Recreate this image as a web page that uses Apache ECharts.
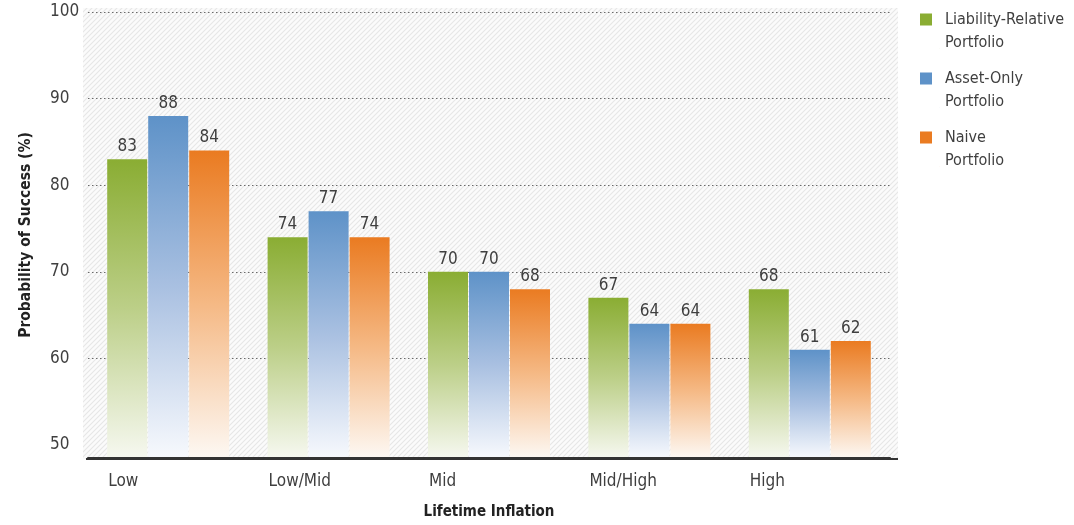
<!DOCTYPE html>
<html>
<head>
<meta charset="utf-8">
<script src="https://cdn.jsdelivr.net/npm/echarts@6/dist/echarts.min.js"></script>
<style>
  html, body { margin: 0; padding: 0; background: #ffffff; }
  #chart { width: 1074px; height: 525px; }
</style>
</head>
<body>
<div id="chart"></div>
<script>
// Lifetime inflation scenarios
const categories = ['Low', 'Low/Mid', 'Mid', 'Mid/High', 'High'];
const seriesNames = ['Liability-Relative\nPortfolio', 'Asset-Only\nPortfolio', 'Naive\nPortfolio'];
// Probability of success (%) per portfolio
const liabilityRelative = [83, 74, 70, 67, 68];
const assetOnly = [88, 77, 70, 64, 61];
const naive = [84, 74, 68, 64, 62];
// Y-axis labels and dotted grid lines
const yLabels = [50, 60, 70, 80, 90, 100];
const yGridLines = [60, 70, 80, 90, 100];

const FONT = "'Liberation Sans Narrow', 'DejaVu Sans Condensed', 'Roboto', sans-serif";
const TEXT = '#3f3f3f';

// Fine diagonal hatch for the plot background
function hatchPattern() {
  const s = 5;
  const c = document.createElement('canvas');
  c.width = s; c.height = s;
  const ctx = c.getContext('2d');
  ctx.fillStyle = '#fbfbfb';
  ctx.fillRect(0, 0, s, s);
  ctx.strokeStyle = '#e6e6e6';
  ctx.lineWidth = 1.1;
  ctx.beginPath();
  ctx.moveTo(-1, s + 1); ctx.lineTo(s + 1, -1);
  ctx.moveTo(-1, 1); ctx.lineTo(1, -1);
  ctx.moveTo(s - 1, s + 1); ctx.lineTo(s + 1, s - 1);
  ctx.stroke();
  return c;
}

function fade(top, mid, bottom) {
  return new echarts.graphic.LinearGradient(0, 0, 0, 1, [
    { offset: 0, color: top },
    { offset: 0.5, color: mid },
    { offset: 1, color: bottom }
  ]);
}

const palette = [
  { solid: '#8aad33', fill: fade('#8aad33', '#bccf88', '#f6f8f0') },
  { solid: '#5e92c8', fill: fade('#5e92c8', '#a9c0e1', '#f7f9fd') },
  { solid: '#ea7b21', fill: fade('#ea7b21', '#f5b985', '#fdf8f3') }
];

// Legend swatch: 12px square at the top-left of a taller box, so it sits beside the first text line
const SWATCH = 'path://M0,0H12V12H0Z M19.85,34.85H20V35H19.85Z';

const values = [liabilityRelative, assetOnly, naive];

const chart = echarts.init(document.getElementById('chart'), null, { renderer: 'canvas' });

chart.setOption({
  animation: false,
  backgroundColor: '#ffffff',
  textStyle: { fontFamily: FONT },
  graphic: [{
    type: 'rect',
    z: -10,
    silent: true,
    shape: { x: 83, y: 8, width: 815, height: 451 },
    style: { fill: { image: hatchPattern(), repeat: 'repeat' } }
  }, {
    // baseline running slightly past the category band on both ends
    type: 'line',
    z: -9,
    silent: true,
    shape: { x1: 86, y1: 459, x2: 898, y2: 459 },
    style: { stroke: '#333333', lineWidth: 2 }
  }],
  grid: { left: 88, right: 184, top: 12, bottom: 66 },
  legend: {
    orient: 'vertical',
    left: 920,
    top: 8,
    padding: 0,
    itemWidth: 20,
    itemHeight: 35,
    itemGap: 13,
    icon: SWATCH,
    selectedMode: false,
    textStyle: {
      fontFamily: FONT,
      fontSize: 16,
      color: TEXT,
      lineHeight: 23
    },
    data: seriesNames.map((n, i) => ({ name: n, itemStyle: { color: palette[i].solid } }))
  },
  xAxis: {
    type: 'category',
    z: 10,
    data: categories,
    name: 'Lifetime Inflation',
    nameLocation: 'middle',
    nameGap: 47,
    nameTextStyle: { fontFamily: FONT, fontWeight: 'bold', fontSize: 15, color: '#222222' },
    axisLine: { show: true, lineStyle: { color: '#333333', width: 2 } },
    axisTick: { show: false },
    axisLabel: {
      margin: 15,
      formatter: v => '{c|' + v + '}',
      rich: {
        c: { width: 120, align: 'left', fontFamily: FONT, fontSize: 17, color: TEXT }
      }
    }
  },
  yAxis: {
    type: 'value',
    min: 48.5,
    max: 100,
    name: 'Probability of Success (%)',
    nameLocation: 'middle',
    nameGap: 54,
    nameTextStyle: { fontFamily: FONT, fontWeight: 'bold', fontSize: 15.5, color: '#222222' },
    axisLine: { show: false },
    axisTick: { show: false, customValues: yGridLines },
    axisLabel: {
      customValues: yLabels,
      align: 'left',
      margin: 38,
      fontFamily: FONT,
      fontSize: 17,
      color: TEXT
    },
    splitLine: { show: true, lineStyle: { color: '#6a6a6a', type: [1.5, 2.5], width: 1 } }
  },
  series: values.map((data, i) => ({
    name: seriesNames[i],
    type: 'bar',
    data: data,
    barWidth: 40,
    barGap: '2.5%',
    itemStyle: { color: palette[i].fill },
    label: {
      show: true,
      position: 'top',
      distance: 4,
      fontFamily: FONT,
      fontSize: 17,
      color: TEXT
    }
  }))
});
</script>
</body>
</html>
